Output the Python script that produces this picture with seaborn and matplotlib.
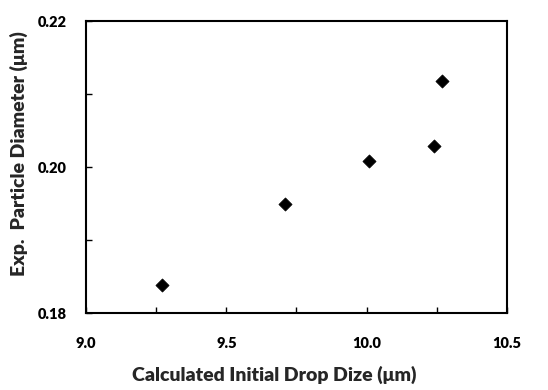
import matplotlib.pyplot as plt
import seaborn as sns
import pandas as pd
from matplotlib.ticker import MultipleLocator

# values
drop_size = [9.27, 9.71, 10.01, 10.24, 10.27]
particle_diam = [0.1838, 0.1949, 0.2008, 0.2029, 0.2118]

data = pd.DataFrame({'drop': drop_size, 'diam': particle_diam})

sns.set_style('white')
plt.rcParams['font.family'] = ['Lato', 'DejaVu Sans']
plt.rcParams['font.weight'] = 'heavy'

fig = plt.figure(figsize=(5.48, 3.9), dpi=100)
ax = fig.add_axes([0.157, 0.197, 0.768, 0.749])

sns.scatterplot(x='drop', y='diam', data=data, marker='D', color='black',
                s=45, edgecolor='black', linewidth=0.5, ax=ax, legend=False)

ax.set_xlim(9.0, 10.5)
ax.set_ylim(0.18, 0.22)
ax.xaxis.set_major_locator(MultipleLocator(0.5))
ax.xaxis.set_minor_locator(MultipleLocator(0.25))
ax.yaxis.set_major_locator(MultipleLocator(0.02))
ax.yaxis.set_minor_locator(MultipleLocator(0.01))
ax.xaxis.set_major_formatter(plt.FormatStrFormatter('%.1f'))
ax.yaxis.set_major_formatter(plt.FormatStrFormatter('%.2f'))

ax.tick_params(axis='both', which='both', direction='in', length=4, width=1,
               colors='black', labelsize=10.5, bottom=True, left=True)
ax.tick_params(axis='x', which='major', pad=17)
ax.tick_params(axis='y', which='major', pad=14)
for lab in ax.get_xticklabels() + ax.get_yticklabels():
    lab.set_fontweight('heavy')

for sp in ax.spines.values():
    sp.set_color('black')
    sp.set_linewidth(1.5)

ax.set_xlabel('Calculated Initial Drop Dize (μm)', fontsize=14, fontweight='heavy')
ax.set_ylabel('Exp.  Particle Diameter (μm)', fontsize=14, fontweight='heavy')
ax.xaxis.set_label_coords(0.448, -0.18)
ax.yaxis.set_label_coords(-0.138, 0.545)

fig.savefig('out.png', dpi=100)
